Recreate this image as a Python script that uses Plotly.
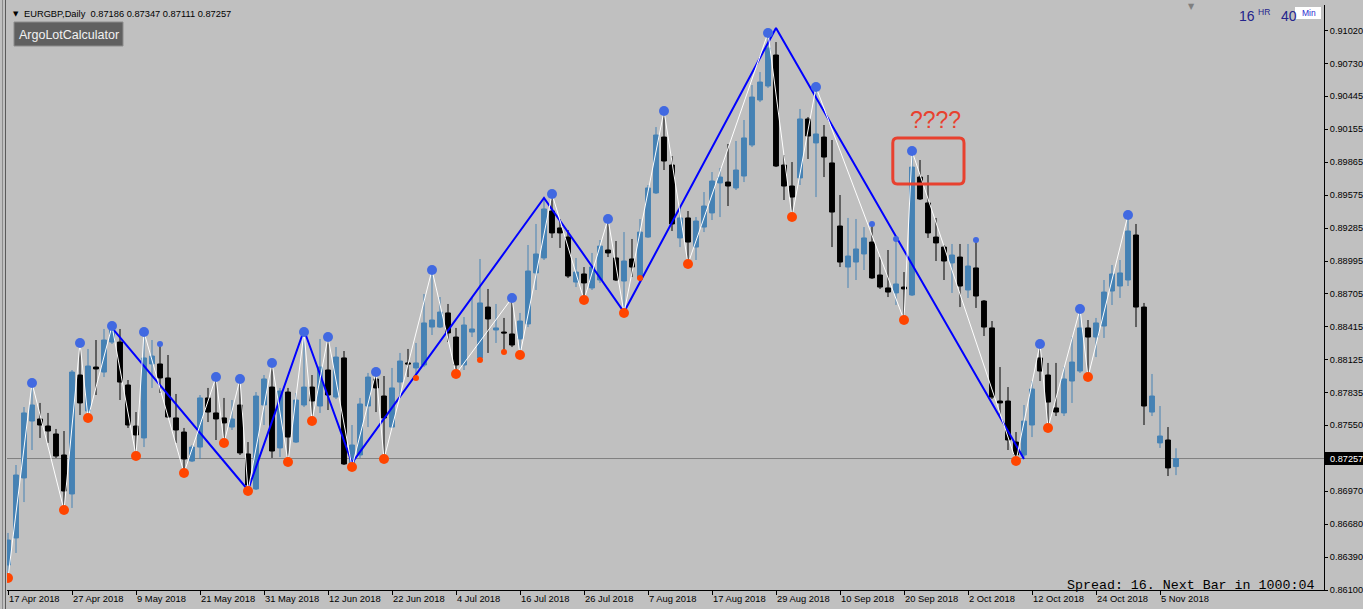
import plotly.graph_objects as go

# ---------------- data ----------------
symbol = "EURGBP,Daily"

open_ = [0.86320, 0.86558, 0.87086, 0.87587, 0.87605, 0.87543, 0.87473, 0.87288, 0.86945, 0.87992,
         0.87675, 0.88062, 0.88018, 0.88282, 0.88282, 0.87904, 0.87543, 0.87438, 0.88089, 0.88089,
         0.87966, 0.87614, 0.87490, 0.87235, 0.87358, 0.87790, 0.87658, 0.87614, 0.87534, 0.87728,
         0.87297, 0.86989, 0.87728, 0.87886, 0.87350, 0.87842, 0.87402, 0.87728, 0.87886, 0.87719,
         0.88036, 0.87798, 0.88142, 0.87200, 0.87288, 0.87719, 0.87957, 0.87807, 0.87534, 0.87930,
         0.88098, 0.88054, 0.88080, 0.88414, 0.88414, 0.88538, 0.88326, 0.88080, 0.88370, 0.88142,
         0.88590, 0.88388, 0.88370, 0.88353, 0.88309, 0.88441, 0.88890, 0.89022, 0.89435, 0.89286,
         0.89206, 0.88810, 0.88881, 0.88758, 0.88828, 0.89092, 0.89022, 0.88819, 0.89013, 0.88854,
         0.89206, 0.89594, 0.90086, 0.89840, 0.89198, 0.89374, 0.89118, 0.89294, 0.89418, 0.89682,
         0.89690, 0.89638, 0.89743, 0.90016, 0.90412, 0.90535, 0.90808, 0.89840, 0.89655, 0.89726,
         0.90245, 0.90034, 0.90086, 0.89858, 0.89303, 0.88942, 0.88986, 0.89057, 0.89162, 0.88872,
         0.88758, 0.88714, 0.88766, 0.88696, 0.89734, 0.89506, 0.89206, 0.89118, 0.88978, 0.89030,
         0.88740, 0.88934, 0.88643, 0.88406, 0.87763, 0.87763, 0.87402, 0.87288, 0.87552, 0.88142,
         0.87992, 0.87702, 0.87658, 0.87939, 0.88027, 0.88406, 0.88326, 0.88423, 0.88731, 0.88775,
         0.88828, 0.89224, 0.88590, 0.87666, 0.87394, 0.87420, 0.87186]
high = [0.86602, 0.87200, 0.87710, 0.87922, 0.87746, 0.87658, 0.87517, 0.87499, 0.88036, 0.88274,
        0.88221, 0.88300, 0.88397, 0.88423, 0.88397, 0.87948, 0.87666, 0.88370, 0.88300, 0.88265,
        0.88168, 0.87825, 0.87526, 0.87376, 0.87816, 0.87878, 0.87974, 0.87790, 0.87772, 0.87957,
        0.87402, 0.87842, 0.87992, 0.88098, 0.87878, 0.87878, 0.87834, 0.88370, 0.87992, 0.88309,
        0.88326, 0.88238, 0.88203, 0.87552, 0.87790, 0.88010, 0.88018, 0.87983, 0.88054, 0.88186,
        0.88221, 0.88274, 0.88705, 0.88916, 0.88678, 0.88617, 0.88406, 0.88502, 0.88678, 0.89013,
        0.88749, 0.88617, 0.88494, 0.88670, 0.88538, 0.89136, 0.89321, 0.89532, 0.89585, 0.89365,
        0.89268, 0.89022, 0.88942, 0.89066, 0.89180, 0.89365, 0.89171, 0.89250, 0.89189, 0.89365,
        0.89664, 0.90174, 0.90315, 0.89919, 0.89462, 0.89435, 0.89382, 0.89602, 0.89778, 0.89814,
        0.90025, 0.90051, 0.90236, 0.90544, 0.90658, 0.91002, 0.90922, 0.89928, 0.89866, 0.90333,
        0.90262, 0.90526, 0.90192, 0.90060, 0.89576, 0.89374, 0.89365, 0.89294, 0.89321, 0.89030,
        0.89092, 0.89189, 0.88898, 0.89963, 0.89884, 0.89752, 0.89374, 0.89136, 0.89145, 0.89145,
        0.89145, 0.89180, 0.88652, 0.88467, 0.88062, 0.87886, 0.87490, 0.87728, 0.87939, 0.88265,
        0.88098, 0.88098, 0.88062, 0.88326, 0.88573, 0.88476, 0.88494, 0.88828, 0.88960, 0.89004,
        0.89400, 0.89321, 0.88626, 0.88001, 0.87719, 0.87534, 0.87347]
low = [0.86206, 0.86426, 0.86874, 0.87332, 0.87438, 0.87394, 0.87262, 0.86804, 0.86822, 0.87640,
       0.87614, 0.87816, 0.87974, 0.88265, 0.87772, 0.87526, 0.87279, 0.87358, 0.87878, 0.87834,
       0.87614, 0.87394, 0.87130, 0.87226, 0.87253, 0.87578, 0.87420, 0.87394, 0.87508, 0.87288,
       0.86971, 0.86980, 0.87552, 0.87262, 0.87270, 0.87226, 0.87394, 0.87710, 0.87587, 0.87658,
       0.87684, 0.87781, 0.87200, 0.87182, 0.87262, 0.87534, 0.87666, 0.87253, 0.87526, 0.87798,
       0.87974, 0.87966, 0.88062, 0.88344, 0.88406, 0.88282, 0.88001, 0.88036, 0.88326, 0.88124,
       0.88186, 0.88274, 0.88194, 0.88238, 0.88168, 0.88414, 0.88740, 0.89004, 0.89198, 0.89110,
       0.88846, 0.88766, 0.88652, 0.88740, 0.88802, 0.89030, 0.88819, 0.88538, 0.88854, 0.88846,
       0.89198, 0.89585, 0.89796, 0.89259, 0.89118, 0.88969, 0.89004, 0.89250, 0.89356, 0.89382,
       0.89479, 0.89620, 0.89690, 0.89998, 0.90394, 0.90518, 0.89822, 0.89532, 0.89382, 0.89664,
       0.89893, 0.89558, 0.89734, 0.89118, 0.88942, 0.88758, 0.88828, 0.88916, 0.88837, 0.88749,
       0.88678, 0.88608, 0.88476, 0.88687, 0.89532, 0.89198, 0.88995, 0.88828, 0.88714, 0.88590,
       0.88670, 0.88582, 0.88335, 0.87781, 0.87640, 0.87332, 0.87235, 0.87270, 0.87446, 0.87939,
       0.87526, 0.87631, 0.87631, 0.87746, 0.88010, 0.87974, 0.88150, 0.88318, 0.88608, 0.88670,
       0.88775, 0.88414, 0.87552, 0.87631, 0.87350, 0.87103, 0.87111]
close = [0.86540, 0.87112, 0.87658, 0.87728, 0.87552, 0.87499, 0.87279, 0.86971, 0.88018, 0.87746,
         0.88071, 0.88045, 0.88300, 0.88406, 0.87930, 0.87552, 0.87464, 0.88142, 0.88159, 0.87966,
         0.87622, 0.87508, 0.87253, 0.87358, 0.87790, 0.87666, 0.87605, 0.87570, 0.87605, 0.87306,
         0.87024, 0.87807, 0.87957, 0.87323, 0.87851, 0.87446, 0.87772, 0.87886, 0.87763, 0.88062,
         0.87816, 0.88150, 0.87209, 0.87376, 0.87737, 0.87974, 0.87878, 0.87614, 0.87878, 0.88115,
         0.88089, 0.88098, 0.88450, 0.88476, 0.88546, 0.88362, 0.88080, 0.88432, 0.88397, 0.88626,
         0.88485, 0.88406, 0.88362, 0.88256, 0.88467, 0.88907, 0.89057, 0.89453, 0.89242, 0.89242,
         0.88863, 0.88898, 0.88802, 0.88942, 0.89127, 0.89066, 0.88828, 0.88995, 0.88942, 0.89250,
         0.89638, 0.90104, 0.89875, 0.89321, 0.89374, 0.89162, 0.89347, 0.89479, 0.89699, 0.89734,
         0.89655, 0.89796, 0.90078, 0.90438, 0.90570, 0.90870, 0.89831, 0.89655, 0.89558, 0.90245,
         0.90095, 0.90113, 0.89910, 0.89426, 0.88986, 0.89039, 0.89101, 0.89198, 0.88846, 0.88766,
         0.88722, 0.88793, 0.88749, 0.89822, 0.89541, 0.89242, 0.89154, 0.88995, 0.89048, 0.88775,
         0.88951, 0.88687, 0.88414, 0.87798, 0.87746, 0.87420, 0.87288, 0.87587, 0.87869, 0.88027,
         0.87754, 0.87666, 0.87957, 0.88106, 0.88406, 0.88326, 0.88450, 0.88722, 0.88881, 0.88890,
         0.89259, 0.88590, 0.87719, 0.87807, 0.87455, 0.87174, 0.87257]

# date axis labels (every 8th bar)
date_tick_bars = [0, 8, 16, 24, 32, 40, 48, 56, 64, 72, 80, 88, 96, 104, 112, 120, 128, 136, 144]
date_labels = ["17 Apr 2018", "27 Apr 2018", "9 May 2018", "21 May 2018", "31 May 2018",
               "12 Jun 2018", "22 Jun 2018", "4 Jul 2018", "16 Jul 2018", "26 Jul 2018",
               "7 Aug 2018", "17 Aug 2018", "29 Aug 2018", "10 Sep 2018", "20 Sep 2018",
               "2 Oct 2018", "12 Oct 2018", "24 Oct 2018", "5 Nov 2018"]

# price axis labels
price_ticks = [0.91020, 0.90730, 0.90445, 0.90155, 0.89865, 0.89575, 0.89285, 0.88995, 0.88705,
               0.88415, 0.88125, 0.87835, 0.87550, 0.86970, 0.86680, 0.86390, 0.86100]

# swing-point markers (fractal dots)
swing_high_bars = [3, 9, 13, 17, 26, 29, 33, 37, 40, 46, 53, 63, 68, 75, 82, 95, 101, 113, 129, 134, 140]
swing_low_bars = [0, 7, 10, 16, 22, 27, 30, 35, 38, 43, 47, 56, 64, 72, 77, 85, 98, 112, 126, 130, 135]
minor_high_bars = [19, 108, 111, 121]
minor_low_bars = [51, 59, 62, 79]

# ZigZag indicator (blue) vertices
zigzag_bars = [13, 30, 37, 43, 67, 77, 96, 127]
zigzag_prices = [0.88406, 0.86980, 0.88388, 0.87218, 0.89550, 0.88546, 0.91046, 0.87253]

spread_text = "Spread: 16. Next Bar in 1000:04"

# ---------------- figure ----------------
BG = "#C0C0C0"
BULL = "#4682B4"
BEAR = "#000000"
RED = "#E8412F"
NAVY = "#24248C"

bars = list(range(len(close)))

fig = go.Figure()
fig.add_trace(go.Candlestick(
    x=bars, open=open_, high=high, low=low, close=close,
    increasing=dict(line=dict(color=BULL, width=1), fillcolor=BULL),
    decreasing=dict(line=dict(color=BEAR, width=1), fillcolor=BEAR),
    whiskerwidth=0, hoverinfo="skip", showlegend=False))

fig.add_trace(go.Scatter(x=zigzag_bars, y=zigzag_prices, mode="lines",
                         line=dict(color="#0000FF", width=2), hoverinfo="skip"))

swing_bars = sorted(swing_high_bars + swing_low_bars)
swing_prices = [high[b] if b in swing_high_bars else low[b] for b in swing_bars]
fig.add_trace(go.Scatter(x=swing_bars, y=swing_prices, mode="lines",
                         line=dict(color="white", width=1), hoverinfo="skip"))

fig.add_trace(go.Scatter(x=swing_high_bars, y=[high[b] for b in swing_high_bars], mode="markers",
                         marker=dict(color="#4169E1", size=10, line=dict(width=0)), hoverinfo="skip"))
fig.add_trace(go.Scatter(x=swing_low_bars, y=[low[b] for b in swing_low_bars], mode="markers",
                         marker=dict(color="#FF4500", size=10, line=dict(width=0)), hoverinfo="skip"))
fig.add_trace(go.Scatter(x=minor_high_bars, y=[high[b] for b in minor_high_bars], mode="markers",
                         marker=dict(color="#4169E1", size=6, line=dict(width=0)), hoverinfo="skip"))
fig.add_trace(go.Scatter(x=minor_low_bars, y=[low[b] for b in minor_low_bars], mode="markers",
                         marker=dict(color="#FF4500", size=6, line=dict(width=0)), hoverinfo="skip"))

W, H = 1363, 609
ML, MR, MT, MB = 7, 39, 5, 19
PW, PH = W - ML - MR, H - MT - MB


def px(x):
    return (x - ML) / PW


def py(y):
    return (H - MB - y) / PH


fig.update_layout(
    width=W, height=H, margin=dict(l=ML, r=MR, t=MT, b=MB, autoexpand=False),
    paper_bgcolor=BG, plot_bgcolor=BG, showlegend=False, boxgap=0.22, boxgroupgap=0.22,
    xaxis=dict(range=[-0.125, 164.5], tickmode="array", tickvals=date_tick_bars, ticktext=date_labels,
               ticks="outside", ticklen=4, tickcolor="black", showline=True, linecolor="black",
               linewidth=1, showgrid=False, zeroline=False, ticklabelposition="outside right",
               tickangle=0, automargin=False,
               tickfont=dict(family="Liberation Sans", size=9.4, color="black"),
               rangeslider=dict(visible=False), fixedrange=True),
    yaxis=dict(side="right", range=[0.86100, 0.91248], tickmode="array", tickvals=price_ticks,
               ticktext=[f"{v:.5f}" for v in price_ticks], ticks="outside", ticklen=3,
               tickcolor="black", showline=True, linecolor="black", linewidth=1,
               showgrid=False, zeroline=False, automargin=False,
               tickfont=dict(family="Liberation Sans", size=9.2, color="black"), fixedrange=True),
)

shapes = []
# current price line
shapes.append(dict(type="line", xref="paper", yref="y", x0=0, x1=1, y0=close[-1], y1=close[-1],
                   line=dict(color="#808080", width=1), layer="below"))
# window frame on the left
shapes.append(dict(type="line", xref="paper", yref="paper", x0=px(2.5), x1=px(2.5), y0=py(0), y1=py(H),
                   line=dict(color="#8C8C8C", width=1)))
shapes.append(dict(type="line", xref="paper", yref="paper", x0=px(5.5), x1=px(5.5), y0=py(0), y1=py(H),
                   line=dict(color="#5A5A5A", width=1)))
# ArgoLotCalculator button
shapes.append(dict(type="rect", xref="paper", yref="paper", x0=px(14), x1=px(123), y0=py(46), y1=py(22),
                   fillcolor="#606060", line=dict(color="#8C8C8C", width=1)))
# "Min" white box
shapes.append(dict(type="rect", xref="paper", yref="paper", x0=px(1295), x1=px(1321), y0=py(19), y1=py(7),
                   fillcolor="white", line=dict(width=0)))
# current price label box on the price scale
shapes.append(dict(type="rect", xref="paper", yref="y", x0=1, x1=px(W + 2),
                   y0=close[-1] - 0.00058, y1=close[-1] + 0.00058,
                   fillcolor="black", line=dict(width=0)))
# red rounded highlight box (bar index / price coordinates)
bx0, bx1, by0, by1 = 110.6, 119.5, 0.89673, 0.90078
rx, ry = 0.55, 0.00045
path = (f"M {bx0+rx},{by1} L {bx1-rx},{by1} Q {bx1},{by1} {bx1},{by1-ry} "
        f"L {bx1},{by0+ry} Q {bx1},{by0} {bx1-rx},{by0} L {bx0+rx},{by0} "
        f"Q {bx0},{by0} {bx0},{by0+ry} L {bx0},{by1-ry} Q {bx0},{by1} {bx0+rx},{by1} Z")
shapes.append(dict(type="path", xref="x", yref="y", path=path, line=dict(color=RED, width=3)))
fig.update_layout(shapes=shapes)

ann = []
ann.append(dict(xref="paper", yref="paper", x=px(10.5), y=py(14), text="▼", showarrow=False,
                xanchor="left", yanchor="middle", font=dict(family="DejaVu Sans", size=7, color="black")))
ann.append(dict(xref="paper", yref="paper", x=px(22), y=py(14),
                text=f"{symbol}  {open_[-1]:.5f} {high[-1]:.5f} {low[-1]:.5f} {close[-1]:.5f}",
                showarrow=False, xanchor="left", yanchor="middle",
                font=dict(family="Liberation Sans", size=9.3, color="black")))
ann.append(dict(xref="paper", yref="paper", x=px(68.5), y=py(34.5), text="ArgoLotCalculator",
                showarrow=False, xanchor="center", yanchor="middle",
                font=dict(family="Liberation Sans", size=12.5, color="#F2F2F2")))
ann.append(dict(xref="paper", yref="paper", x=px(1191), y=py(7), text="▼", showarrow=False,
                xanchor="center", yanchor="middle", font=dict(family="DejaVu Sans", size=8, color="#7F7F7F")))
ann.append(dict(xref="paper", yref="paper", x=px(1247), y=py(16), text="16", showarrow=False,
                xanchor="center", yanchor="middle", font=dict(family="Liberation Sans", size=14, color=NAVY)))
ann.append(dict(xref="paper", yref="paper", x=px(1264), y=py(12), text="HR", showarrow=False,
                xanchor="center", yanchor="middle", font=dict(family="Liberation Sans", size=8.5, color=NAVY)))
ann.append(dict(xref="paper", yref="paper", x=px(1288.5), y=py(16), text="40", showarrow=False,
                xanchor="center", yanchor="middle", font=dict(family="Liberation Sans", size=14, color=NAVY)))
ann.append(dict(xref="paper", yref="paper", x=px(1308.5), y=py(13), text="Min", showarrow=False,
                xanchor="center", yanchor="middle", font=dict(family="Liberation Sans", size=8.5, color="#2A2AD0")))
ann.append(dict(xref="x", yref="y", x=115.9, y=0.90236, text="????", showarrow=False,
                xanchor="center", yanchor="middle", font=dict(family="Liberation Sans", size=23, color=RED)))
ann.append(dict(xref="paper", yref="paper", x=px(1316), y=py(585), text=spread_text, showarrow=False,
                xanchor="right", yanchor="middle", font=dict(family="Liberation Mono", size=13.3, color="black")))
ann.append(dict(xref="paper", yref="y", x=px(1329), y=close[-1], text=f"{close[-1]:.5f}", showarrow=False,
                xanchor="left", yanchor="middle", borderpad=0,
                font=dict(family="Liberation Sans", size=9.2, color="white")))
fig.update_layout(annotations=ann)

fig.write_html("out.html", config={"displayModeBar": False})
